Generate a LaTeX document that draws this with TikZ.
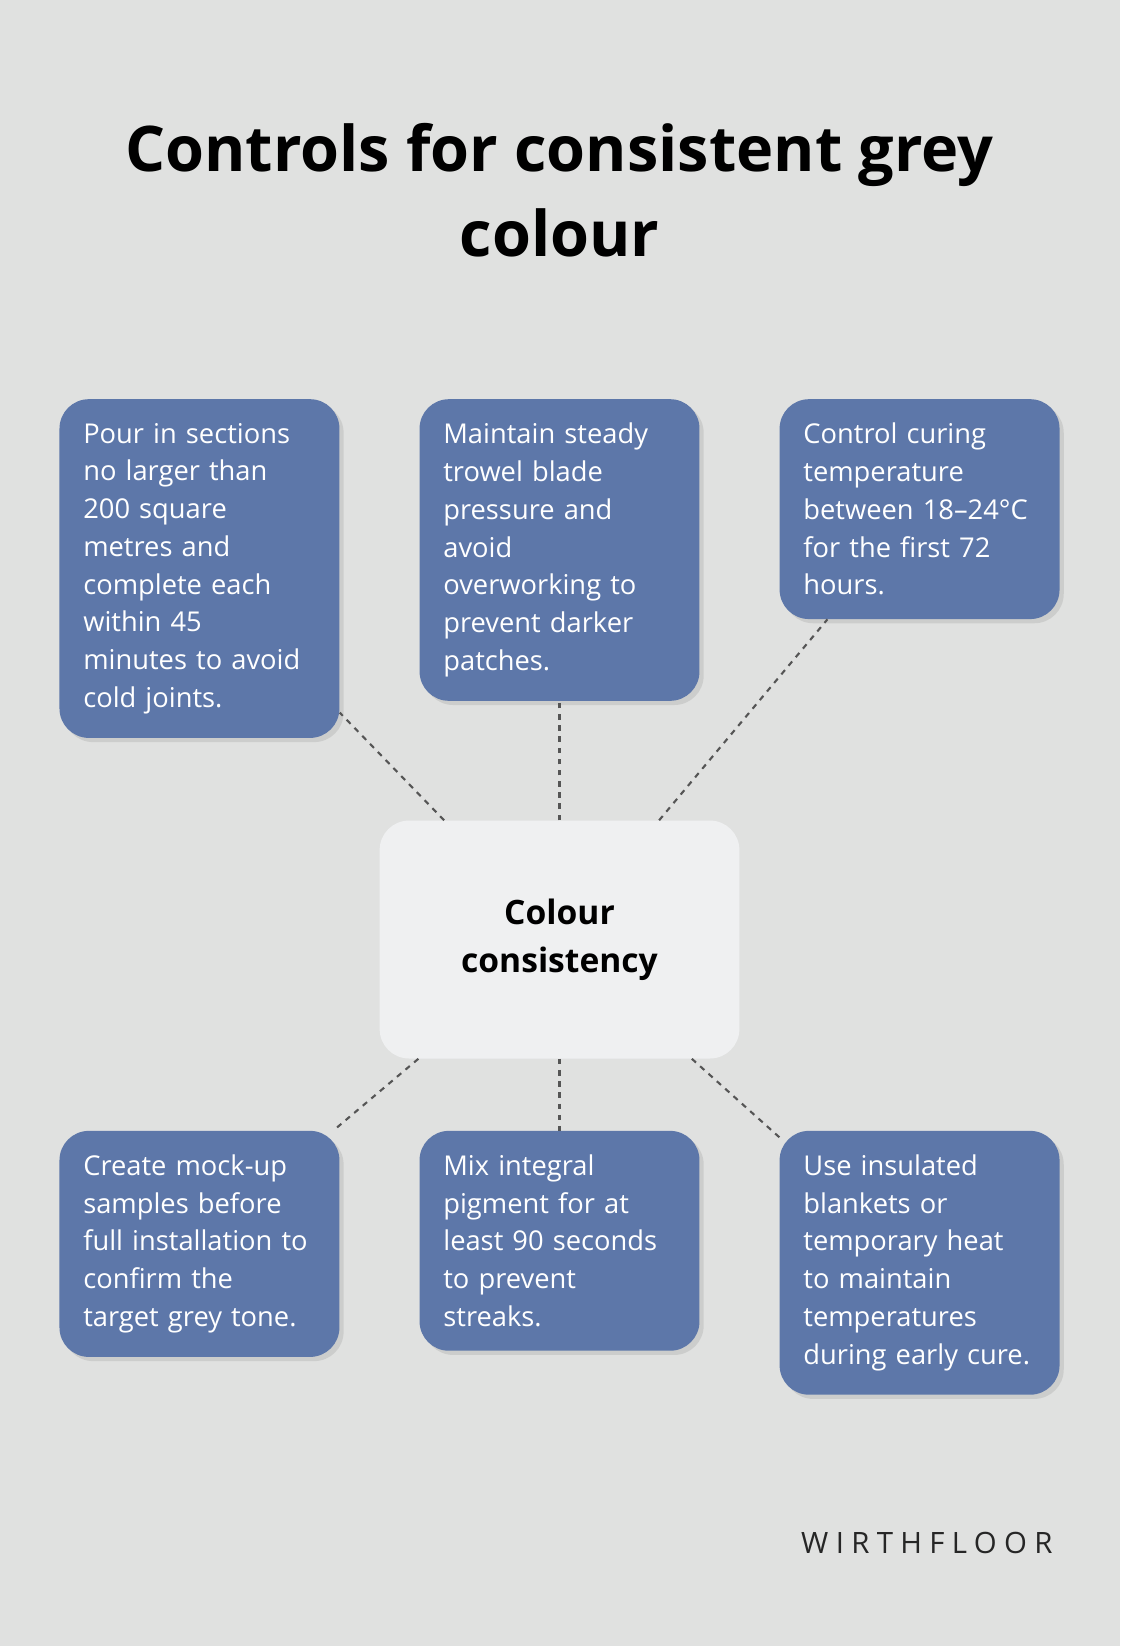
\documentclass[tikz,border=0pt]{standalone}
\usepackage{fontspec}
\setmainfont{Open Sans}
\usepackage{xcolor}
\usetikzlibrary{shadows}
\definecolor{bgcol}{HTML}{E0E1E0}
\definecolor{boxcol}{HTML}{5D77A9}
\definecolor{hubcol}{HTML}{EFF0F1}
\definecolor{linkcol}{HTML}{555555}
\tikzset{
  control/.style={fill=boxcol, text=white, rounded corners=21pt, inner sep=17pt,
    text width=166pt, align=left, anchor=north,
    font=\fontsize{19.5}{27}\selectfont,
    drop shadow={opacity=0.2, shadow xshift=3pt, shadow yshift=-3pt}},
  hub/.style={fill=hubcol, rounded corners=21pt, minimum width=257pt, minimum height=170pt,
    align=center, font=\fontsize{24}{34}\selectfont\bfseries},
  link/.style={draw=linkcol, line width=1.5pt, dash pattern=on 4pt off 4pt}
}
\begin{document}
\begin{tikzpicture}[x=0.75pt, y=-0.75pt]
	 \fill[bgcol] (0,0) rectangle (1067,1568);
	 \useasboundingbox (0,0) rectangle (1067,1568);
	 % title
	 \node[align=center, font=\fontsize{45}{61}\selectfont\bfseries] (title) at (533,181) {Controls for consistent grey\\colour};
	 % hub
	 \node[hub] (hub) at (533,895) {Colour\\consistency};
	 % top row
	 \node[control] (pour) at (190,380) {Pour in sections\\no larger than\\200 square\\metres and\\complete each\\within 45\\minutes to avoid\\cold joints.};
	 \node[control] (trowel) at (533,380) {Maintain steady\\trowel blade\\pressure and\\avoid\\overworking to\\prevent darker\\patches.};
	 \node[control] (curing) at (876,380) {Control curing\\temperature\\between 18–24°C\\for the first 72\\hours.};
	 % bottom row
	 \node[control] (mockup) at (190,1077) {Create mock-up\\samples before\\full installation to\\confirm the\\target grey tone.};
	 \node[control] (pigment) at (533,1077) {Mix integral\\pigment for at\\least 90 seconds\\to prevent\\streaks.};
	 \node[control] (blanket) at (876,1077) {Use insulated\\blankets or\\temporary heat\\to maintain\\temperatures\\during early cure.};
	 % links
	 \foreach \n in {pour,trowel,curing,mockup,pigment,blanket}
	   \draw[link] (hub) -- (\n);
	 \node[font=\fontsize{21}{25}\selectfont\addfontfeature{LetterSpace=25}, text=black!85] (brand) at (883,1470) {WIRTHFLOOR};
\end{tikzpicture}
\end{document}
